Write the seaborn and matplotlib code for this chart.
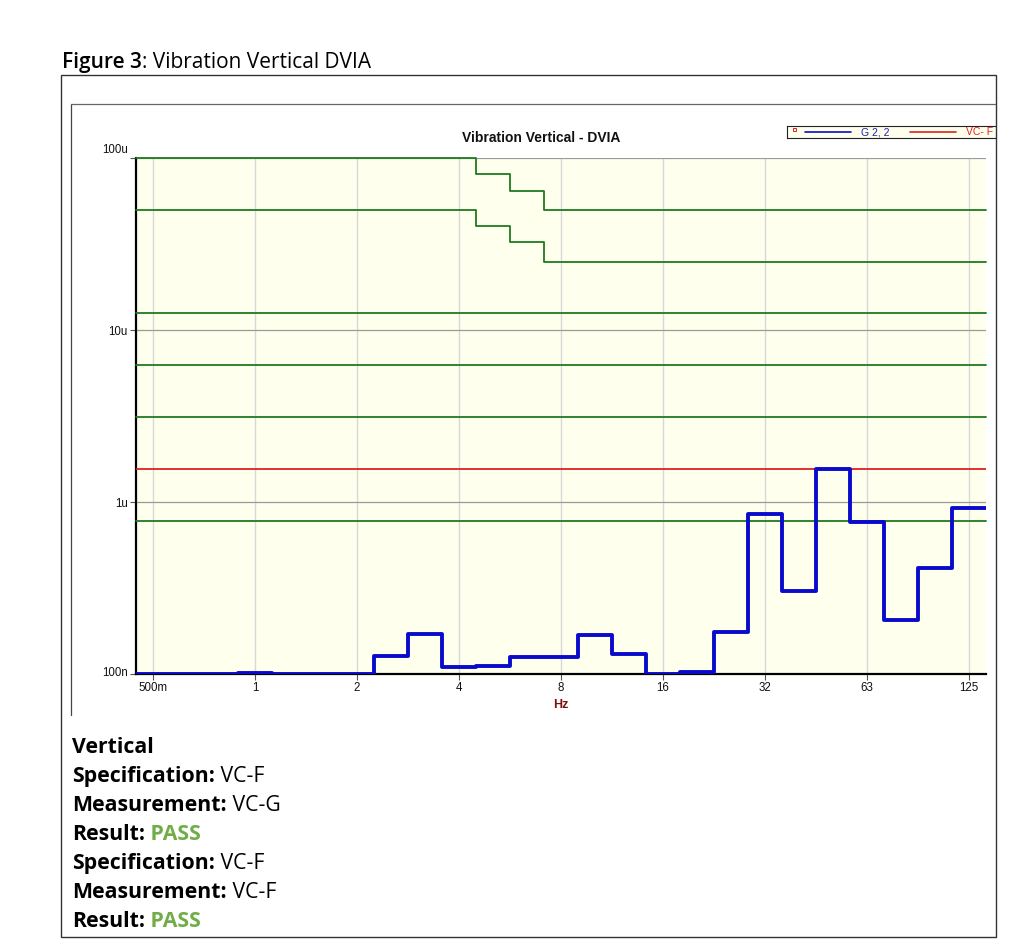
import numpy as np
import pandas as pd
import matplotlib
matplotlib.use("Agg")
import matplotlib.pyplot as plt
import seaborn as sns
from matplotlib.transforms import ScaledTranslation
from matplotlib.patches import Rectangle
from matplotlib.lines import Line2D
from matplotlib.ticker import NullLocator

# ---------------- data ----------------
bands_hz = [0.5, 0.63, 0.8, 1, 1.25, 1.6, 2, 2.5, 3.15, 4, 5, 6.3, 8, 10,
            12.5, 16, 20, 25, 31.5, 40, 50, 63, 80, 100, 125]
# measured 1/3-octave velocity (micro m/s)
measured_u = [0.100, 0.100, 0.100, 0.102, 0.100, 0.100, 0.100, 0.128, 0.171,
              0.110, 0.111, 0.126, 0.125, 0.168, 0.131, 0.100, 0.103, 0.175,
              0.855, 0.304, 1.56, 0.768, 0.206, 0.413, 0.918]
# VC criterion curves (micro m/s)
vc_a = [100] * 10 + [81, 64] + [50] * 13
vc_b = [50] * 10 + [40.5, 32.3] + [25] * 13
vc_c = [12.5] * 25
vc_d = [6.25] * 25
vc_e = [3.12] * 25
vc_f = [1.56] * 25
vc_g = [0.78] * 25

xtick_labels = ["500m", "1", "2", "4", "8", "16", "32", "63", "125"]
ytick_values = [1e-7, 1e-6, 1e-5, 1e-4]
ytick_labels = ["100n", "1u", "10u", "100u"]

# ---------------- style ----------------
sns.set_theme(style="white")
plt.rcParams["font.family"] = ["Liberation Sans", "DejaVu Sans"]

W, H = 1012, 949
fig = plt.figure(figsize=(W / 100, H / 100), dpi=100)
fig.patch.set_facecolor("white")


def fx(px):
    return px / W


def fy(py):
    return 1 - py / H


ax = fig.add_axes([fx(136), fy(674), (986 - 136) / W, (674 - 158) / H])
ax.set_facecolor("#FFFFEE")
ax.set_xscale("log")
ax.set_yscale("log")

n = len(bands_hz)
centers = 0.5 * 2 ** (np.arange(n) / 3)
lo = centers * 2 ** (-1 / 6)
hi = centers * 2 ** (1 / 6)


def step_frame(values):
    v = np.asarray(values, dtype=float) * 1e-6
    x = np.column_stack([lo, hi]).ravel()
    y = np.repeat(v, 2)
    return pd.DataFrame({"Hz": x, "v": y})


green = "#1F7A1F"
for crit in [vc_a, vc_b, vc_c, vc_d, vc_e, vc_g]:
    sns.lineplot(data=step_frame(crit), x="Hz", y="v", sort=False,
                 estimator=None, color=green, lw=1.3, ax=ax, clip_on=False,
                 zorder=3)
sns.lineplot(data=step_frame(vc_f), x="Hz", y="v", sort=False,
             estimator=None, color="#E02020", lw=1.3, ax=ax, zorder=3)
sns.lineplot(data=step_frame(measured_u), x="Hz", y="v", sort=False,
             estimator=None, color="#0A0ACC", lw=2.8, ax=ax, zorder=4)

ax.set_xlim(lo[0], hi[-1])
ax.set_ylim(1e-7, 1e-4)
ax.set_xticks(0.5 * 2 ** np.arange(len(xtick_labels)))
ax.set_xticklabels(xtick_labels)
ax.set_yticks(ytick_values)
ax.set_yticklabels(ytick_labels)
ax.xaxis.set_minor_locator(NullLocator())
ax.yaxis.set_minor_locator(NullLocator())
ax.tick_params(axis="both", which="major", direction="out", length=4,
               width=0.8, color="#555555", labelsize=8.3, pad=2,
               labelcolor="#111111", bottom=True, left=True)
ax.set_axisbelow(True)
ax.grid(axis="x", color="#D8D8D8", lw=1.0)
ax.grid(axis="y", color="#9A9A9A", lw=0.9)

for s in ["top", "right"]:
    ax.spines[s].set_visible(False)
for s in ["left", "bottom"]:
    ax.spines[s].set_color("black")
    ax.spines[s].set_linewidth(1.6)

ax.set_xlabel("Hz", color="#7A1111", fontsize=9, weight="bold", labelpad=3)
ax.set_ylabel("")

for lab in ax.get_yticklabels():
    t = lab.get_text()
    if t == "100u":
        lab.set_transform(lab.get_transform() + ScaledTranslation(0, 10 / 100, fig.dpi_scale_trans))
    elif t == "100n":
        lab.set_transform(lab.get_transform() + ScaledTranslation(0, 3 / 100, fig.dpi_scale_trans))

# chart title
fig.text(fx(541), fy(142), "Vibration Vertical - DVIA", ha="center",
         va="baseline", fontsize=10, weight="bold", color="#111111")

# legend box
lax = fig.add_axes([fx(787.5), fy(137.5), (995 - 787.5) / W, 12 / H])
lax.set_facecolor("#FFFFEE")
lax.set_xlim(787.5, 995)
lax.set_ylim(0, 1)
lax.set_xticks([])
lax.set_yticks([])
for s in lax.spines.values():
    s.set_color("#222222")
    s.set_linewidth(0.8)
lax.spines["right"].set_visible(False)
lax.add_patch(Rectangle((793, 0.55), 3, 0.25, fill=False, ec="#E02020", lw=0.7))
lax.add_line(Line2D([805, 851], [0.5, 0.5], color="#0A0ACC", lw=1.2))
lax.text(861, 0.45, "G 2, 2", color="#2020B0", fontsize=7.5, va="center", ha="left")
lax.add_line(Line2D([910, 956], [0.5, 0.5], color="#E02020", lw=1.2))
lax.text(966, 0.45, "VC- F", color="#E02020", fontsize=7.5, va="center", ha="left")

# frames
fig.add_artist(Rectangle((fx(61), fy(936.5)), (995.5 - 61) / W, (936.5 - 75) / H,
                         transform=fig.transFigure, fill=False, ec="#333333", lw=1.0))
fig.add_artist(Line2D([fx(71.5), fx(71.5)], [fy(104), fy(715)], transform=fig.transFigure,
                      color="#444444", lw=0.9))
fig.add_artist(Line2D([fx(71.5), fx(995.5)], [fy(104), fy(104)], transform=fig.transFigure,
                      color="#666666", lw=0.9))

# document text
doc_font = ["Open Sans", "DejaVu Sans"]
renderer = fig.canvas.get_renderer()


def rich_line(x_px, base_px, parts, size, bold_weight="bold"):
    x = fx(x_px)
    for txt, weight, color in parts:
        w = bold_weight if weight == "bold" else weight
        t = fig.text(x, fy(base_px), txt, fontsize=size, weight=w, color=color,
                     family=doc_font, va="baseline", ha="left")
        bb = t.get_window_extent(renderer=renderer)
        x = (bb.x1) / W


rich_line(62, 68, [("Figure 3", "bold", "black"), (": Vibration Vertical DVIA", "normal", "black")], 15.0,
          bold_weight="semibold")

lines = [
    [("Vertical", "bold", "black")],
    [("Specification:", "bold", "black"), (" VC-F", "normal", "black")],
    [("Measurement:", "bold", "black"), (" VC-G", "normal", "black")],
    [("Result:", "bold", "black"), (" PASS", "bold", "#70AD47")],
    [("Specification:", "bold", "black"), (" VC-F", "normal", "black")],
    [("Measurement:", "bold", "black"), (" VC-F", "normal", "black")],
    [("Result:", "bold", "black"), (" PASS", "bold", "#70AD47")],
]
for i, parts in enumerate(lines):
    rich_line(72, 753 + 29 * i, parts, 15.3, bold_weight="bold")

fig.savefig("out.png", dpi=100)
